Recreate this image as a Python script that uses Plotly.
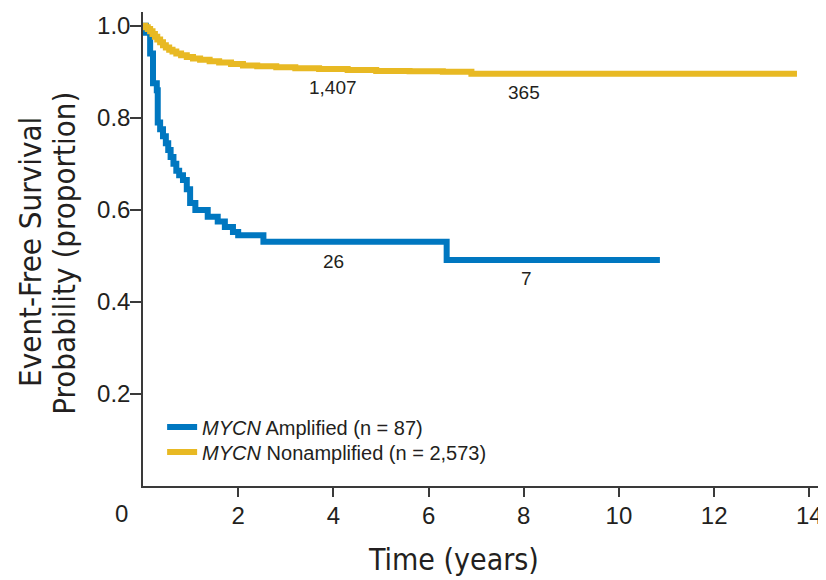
import plotly.graph_objects as go

# ---- data ----
amp_time = [0, 0.06, 0.15, 0.21, 0.29, 0.31, 0.36, 0.42, 0.48, 0.53, 0.58, 0.64,
            0.70, 0.76, 0.84, 0.92, 0.99, 1.10, 1.36, 1.57, 1.72, 1.89, 2.00,
            2.53, 6.38, 10.86]
amp_surv = [1.0, 0.985, 0.94, 0.875, 0.86, 0.79, 0.775, 0.76, 0.745, 0.73, 0.715,
            0.70, 0.685, 0.675, 0.665, 0.645, 0.615, 0.60, 0.585, 0.575, 0.563,
            0.552, 0.545, 0.531, 0.491, 0.491]

non_time = [0, 0.05, 0.10, 0.15, 0.20, 0.25, 0.30, 0.36, 0.42, 0.48, 0.55, 0.62,
            0.70, 0.80, 0.92, 1.05, 1.20, 1.40, 1.60, 1.85, 2.10, 2.40, 2.80,
            3.20, 3.70, 4.30, 4.90, 5.60, 6.30, 6.90, 13.74]
non_surv = [1.0, 0.997, 0.993, 0.988, 0.982, 0.976, 0.970, 0.964, 0.958, 0.953,
            0.948, 0.944, 0.940, 0.936, 0.932, 0.929, 0.926, 0.923, 0.920, 0.917,
            0.914, 0.912, 0.910, 0.908, 0.906, 0.904, 0.902, 0.901, 0.900, 0.896,
            0.896]

series_names = ["<i>MYCN</i> Amplified (n = 87)",
                "<i>MYCN</i> Nonamplified (n = 2,573)"]
series_colors = ["#0077C0", "#E8B923"]

# numbers at risk
risk_labels = ["1,407", "365", "26", "7"]
risk_x = [4.0, 8.0, 4.0, 8.05]
risk_y = [0.867, 0.854, 0.487, 0.450]

x_tickvals = [2, 4, 6, 8, 10, 12, 14]
y_tickvals = [0.2, 0.4, 0.6, 0.8, 1.0]
y_ticktext = ["0.2", "0.4", "0.6", "0.8", "1.0"]

TXT = "#231F20"
AXC = "#3a3a3a"
TICKFONT = dict(family="Liberation Sans, Arial, sans-serif", size=24, color=TXT)
NARROW = "Liberation Sans Narrow, Arial Narrow, DejaVu Sans Condensed, sans-serif"
LEGFONT = dict(family="Liberation Sans, Arial, sans-serif", size=20, color=TXT)

fig = go.Figure()
fig.add_trace(go.Scatter(x=amp_time, y=amp_surv, mode="lines", line_shape="hv",
                         name=series_names[0], legend="legend",
                         line=dict(color=series_colors[0], width=6)))
fig.add_trace(go.Scatter(x=non_time, y=non_surv, mode="lines", line_shape="hv",
                         name=series_names[1], legend="legend2",
                         line=dict(color=series_colors[1], width=6)))

annotations = []
for t, xv, yv in zip(risk_labels, risk_x, risk_y):
    annotations.append(dict(x=xv, y=yv, xref="x", yref="y", text=t, showarrow=False,
                            xanchor="center", yanchor="middle",
                            font=dict(family="Liberation Sans, Arial, sans-serif",
                                      size=19, color=TXT)))
# "0" label at the origin corner
annotations.append(dict(x=-0.032, y=-0.057, xref="paper", yref="paper", text="0",
                        xanchor="center", yanchor="middle",
                        showarrow=False, font=TICKFONT))
# axis titles
annotations.append(dict(x=0.454, y=-0.156, xref="paper", yref="paper",
                        text="Time (years)", showarrow=False,
                        xanchor="center", yanchor="middle",
                        font=dict(family=NARROW, size=30, color=TXT)))
annotations.append(dict(x=-0.1654, y=0.494, xref="paper", yref="paper",
                        text="Event-Free Survival", textangle=-90, showarrow=False,
                        xanchor="center", yanchor="middle",
                        font=dict(family=NARROW, size=31, color=TXT)))
annotations.append(dict(x=-0.1157, y=0.492, xref="paper", yref="paper",
                        text="Probability (proportion)", textangle=-90, showarrow=False,
                        xanchor="center", yanchor="middle",
                        font=dict(family=NARROW, size=31, color=TXT)))

fig.update_layout(
    width=826, height=580,
    margin=dict(l=135, r=8, t=4, b=102),
    paper_bgcolor="white", plot_bgcolor="white",
    showlegend=True,
    legend=dict(x=0.028, y=0.1245, xanchor="left", yanchor="middle",
                bgcolor="rgba(0,0,0,0)", font=LEGFONT),
    legend2=dict(x=0.028, y=0.0717, xanchor="left", yanchor="middle",
                 bgcolor="rgba(0,0,0,0)", font=LEGFONT),
    annotations=annotations,
    xaxis=dict(range=[0, 14.35], tickvals=x_tickvals, ticks="outside", ticklen=9,
               tickwidth=1.5, tickcolor=AXC, showline=True, linecolor=AXC,
               linewidth=1.5, showgrid=False, zeroline=False, tickfont=TICKFONT,
               ticklabelstandoff=-2),
    yaxis=dict(range=[0, 1.03], tickvals=y_tickvals, ticktext=y_ticktext,
               ticks="outside", ticklen=11, tickwidth=1.5, tickcolor=AXC,
               showline=True, linecolor=AXC, linewidth=1.5, showgrid=False,
               zeroline=False, tickfont=TICKFONT, ticklabelstandoff=-5),
)

fig.write_html("out.html")
